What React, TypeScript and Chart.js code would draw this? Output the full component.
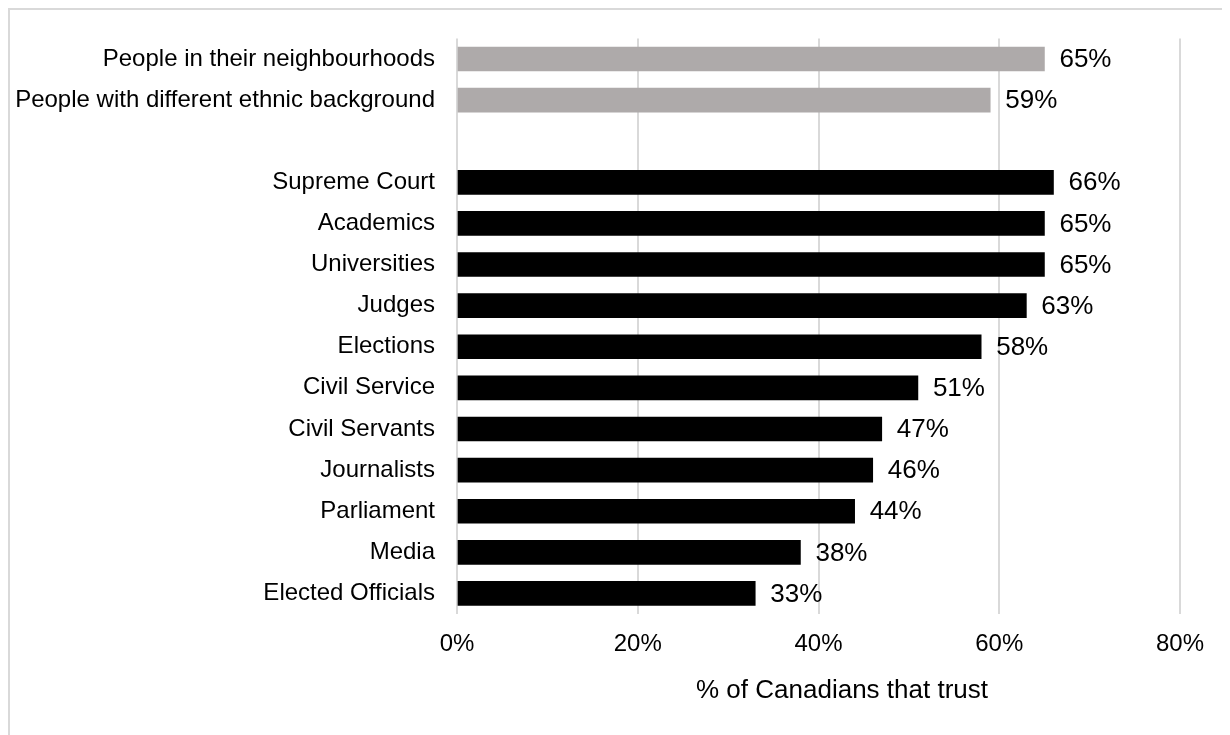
import React, { useEffect, useRef } from "react";
import { Chart, registerables } from "chart.js";

Chart.register(...registerables);

const socialCategories = [
  "People in their neighbourhoods",
  "People with different ethnic background",
];
const socialValues = [65, 59];

const institutionCategories = [
  "Supreme Court",
  "Academics",
  "Universities",
  "Judges",
  "Elections",
  "Civil Service",
  "Civil Servants",
  "Journalists",
  "Parliament",
  "Media",
  "Elected Officials",
];
const institutionValues = [66, 65, 65, 63, 58, 51, 47, 46, 44, 38, 33];

const xTickValues = [0, 20, 40, 60, 80];
const axisTitle = "% of Canadians that trust";

const FONT = "'Liberation Sans', Arial, Helvetica, sans-serif";
const GRAY = "#aeaaaa";
const BLACK = "#000000";
const GRID = "#d9d9d9";

export default function App() {
  const ref = useRef<HTMLCanvasElement>(null);

  useEffect(() => {
    if (!ref.current) return;
    const labels = [...socialCategories, "", ...institutionCategories];
    const data: (number | null)[] = [...socialValues, null, ...institutionValues];
    const colors = [
      ...socialValues.map(() => GRAY),
      "rgba(0,0,0,0)",
      ...institutionValues.map(() => BLACK),
    ];

    const valueLabels = {
      id: "valueLabels",
      afterDatasetsDraw(chart: any) {
        const { ctx } = chart;
        const meta = chart.getDatasetMeta(0);
        ctx.save();
        ctx.font = `26px ${FONT}`;
        ctx.fillStyle = "#000";
        ctx.textAlign = "left";
        ctx.textBaseline = "middle";
        meta.data.forEach((bar: any, i: number) => {
          const v = data[i];
          if (v == null) return;
          ctx.fillText(`${v}%`, bar.x + 15, bar.y + 1);
        });
        ctx.restore();
      },
    };

    const xTitle = {
      id: "xTitle",
      afterDraw(chart: any) {
        const { ctx, chartArea } = chart;
        ctx.save();
        ctx.font = `26px ${FONT}`;
        ctx.fillStyle = "#000";
        ctx.textAlign = "center";
        ctx.textBaseline = "middle";
        const cx = chartArea.left + (chartArea.right - chartArea.left) * 0.5325;
        ctx.fillText(axisTitle, cx, chartArea.bottom + 77);
        ctx.restore();
      },
    };

    const chart = new Chart(ref.current, {
      type: "bar",
      data: {
        labels,
        datasets: [
          {
            data,
            backgroundColor: colors,
            barThickness: 24,
            categoryPercentage: 1,
            barPercentage: 1,
          },
        ],
      },
      options: {
        indexAxis: "y",
        responsive: false,
        animation: false,
        devicePixelRatio: 1,
        layout: { padding: { top: 19, right: 50, left: 0, bottom: 0 } },
        plugins: {
          legend: { display: false },
          tooltip: { enabled: false },
        },
        scales: {
          y: {
            grid: { display: false },
            border: { display: false },
            ticks: {
              autoSkip: false,
              color: "#000",
              font: { family: FONT, size: 24 },
              padding: 14,
            },
            afterFit(scale: any) {
              scale.width = 447;
            },
          },
          x: {
            min: 0,
            max: 80,
            afterBuildTicks(scale: any) {
              scale.ticks = xTickValues.map((v) => ({ value: v }));
            },
            ticks: {
              color: "#000",
              font: { family: FONT, size: 24 },
              padding: 16,
              callback: (v: any) => `${v}%`,
            },
            grid: { color: GRID, lineWidth: 2, drawTicks: false },
            border: { display: false },
            afterFit(scale: any) {
              scale.height = 121;
            },
          },
        },
      },
      plugins: [valueLabels, xTitle],
    } as any);

    return () => chart.destroy();
  }, []);

  return (
    <div
      style={{
        width: 1222,
        height: 727,
        boxSizing: "border-box",
        borderTop: `2px solid ${GRID}`,
        borderLeft: `2px solid ${GRID}`,
        overflow: "hidden",
        background: "#fff",
      }}
    >
      <canvas ref={ref} width={1220} height={725} style={{ display: "block" }} />
    </div>
  );
}
